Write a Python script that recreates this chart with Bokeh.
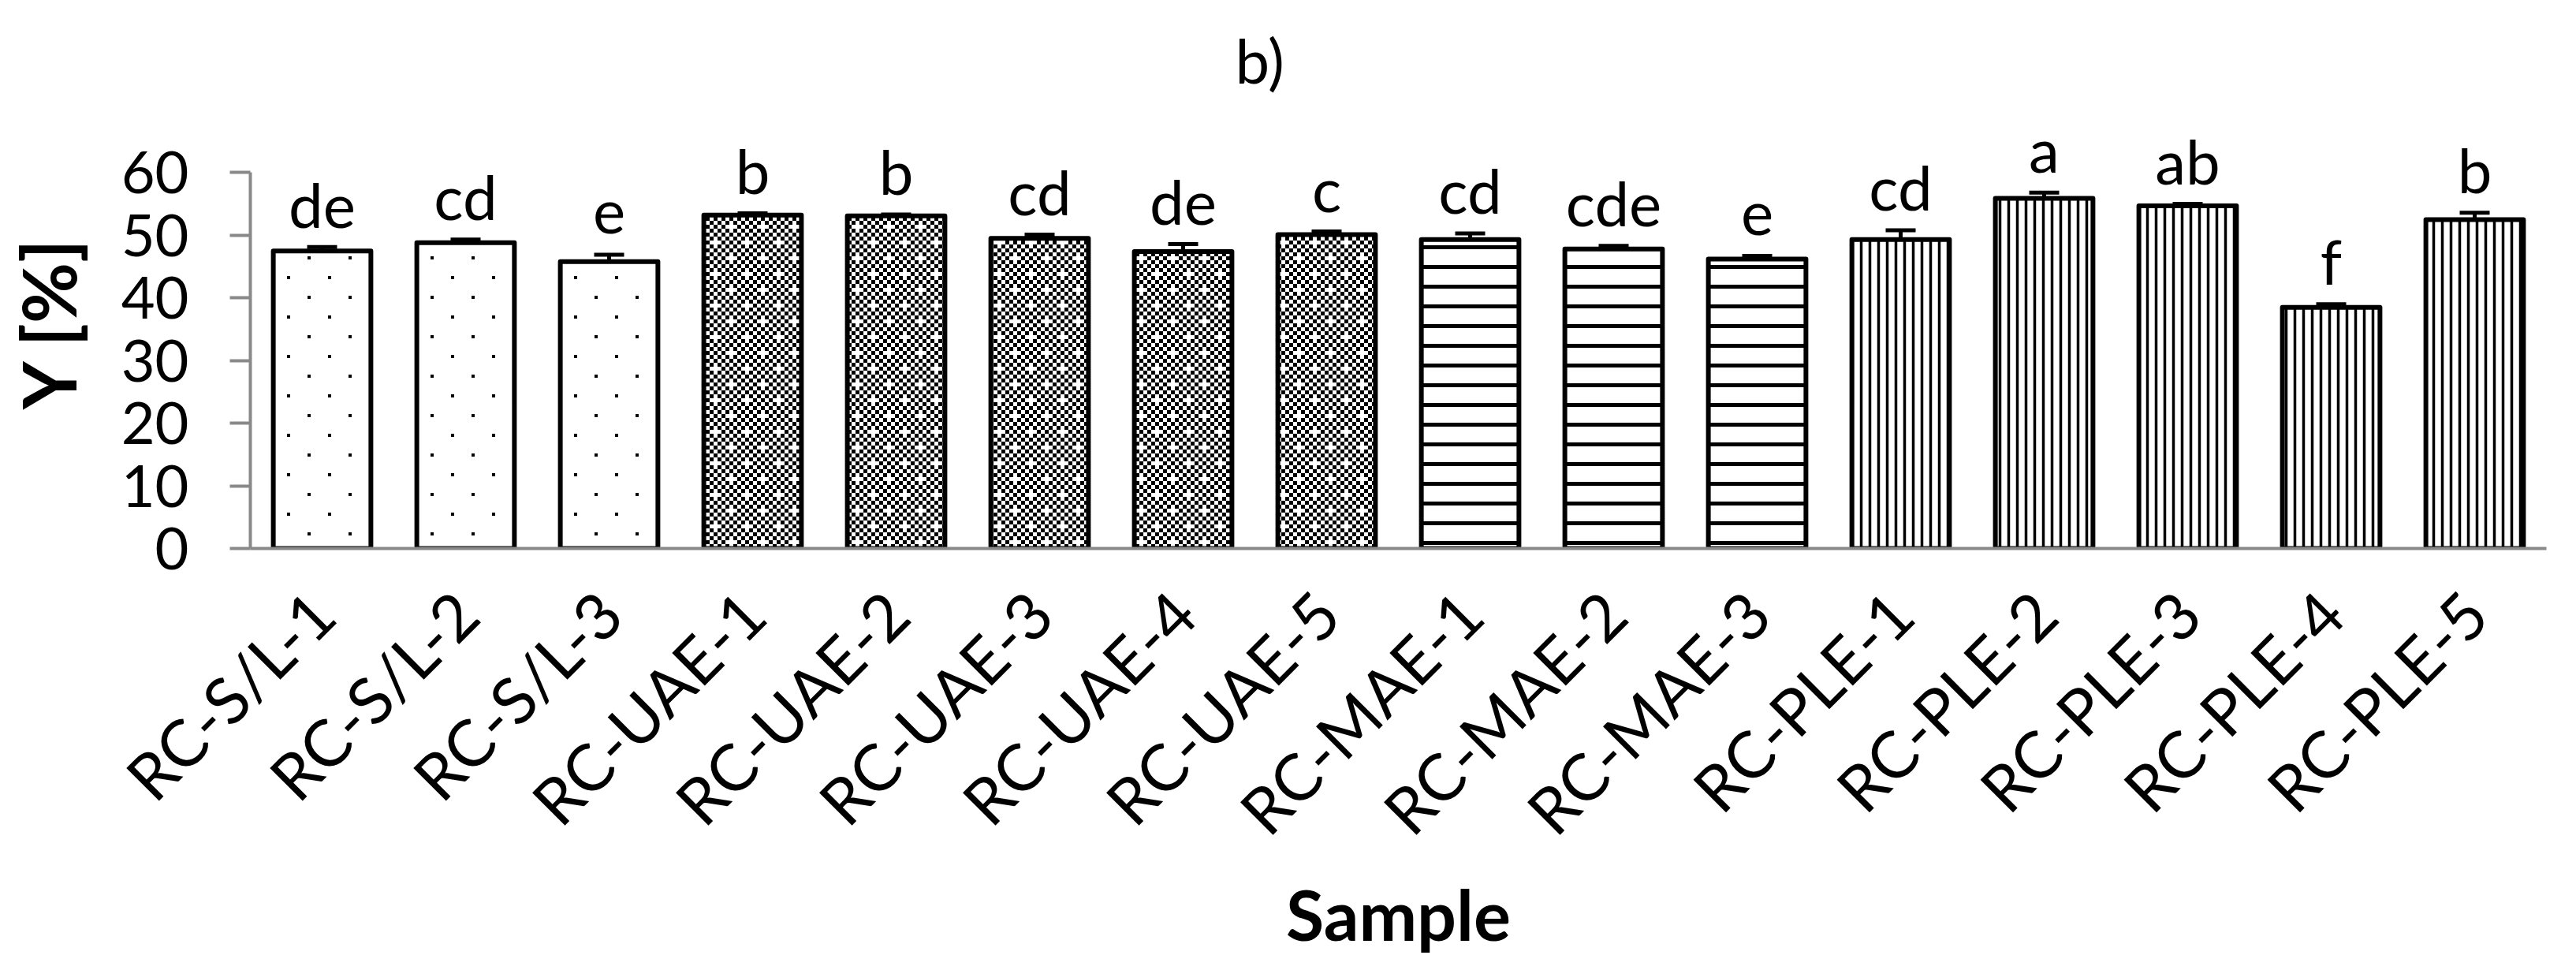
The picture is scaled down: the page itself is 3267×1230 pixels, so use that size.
import math
from bokeh.plotting import figure
from bokeh.models import (FactorRange, Range1d, FixedTicker, Whisker, TeeHead,
                          ColumnDataSource, CanvasTexture)
from bokeh.core.properties import value
from bokeh.embed import file_html
from bokeh.resources import INLINE

# ---------------- data ----------------
samples = ["RC-S/L-1", "RC-S/L-2", "RC-S/L-3",
           "RC-UAE-1", "RC-UAE-2", "RC-UAE-3", "RC-UAE-4", "RC-UAE-5",
           "RC-MAE-1", "RC-MAE-2", "RC-MAE-3",
           "RC-PLE-1", "RC-PLE-2", "RC-PLE-3", "RC-PLE-4", "RC-PLE-5"]
methods = ["S/L"] * 3 + ["UAE"] * 5 + ["MAE"] * 3 + ["PLE"] * 5
yields = [47.5, 48.8, 45.8, 53.2, 53.1, 49.5, 47.4, 50.1,
          49.3, 47.8, 46.2, 49.3, 55.9, 54.7, 38.5, 52.5]
errors = [0.6, 0.5, 1.1, 0.3, 0.2, 0.6, 1.2, 0.5,
          1.0, 0.5, 0.5, 1.5, 0.9, 0.3, 0.5, 1.1]
letters = ["de", "cd", "e", "b", "b", "cd", "de", "c",
           "cd", "cde", "e", "cd", "a", "ab", "f", "b"]
y_ticks = [0, 10, 20, 30, 40, 50, 60]

# ---------------- styles ----------------
FONT = "Lato"
AXIS_GRAY = "#898989"
LABEL_GAP = 6.9  # data units between error-bar top and letter baseline

# custom tile textures (the tile canvas is resized inside the code)
dots_tex = CanvasTexture(code="""
var cv = ctx.canvas;
cv.width = 52; cv.height = 50;
ctx.clearRect(0, 0, 52, 50);
ctx.fillStyle = "black";
ctx.fillRect(0, 0, 4, 4);
ctx.fillRect(26, 25, 4, 4);
""")
checker_tex = CanvasTexture(code="""
var cv = ctx.canvas;
cv.width = 40; cv.height = 40;
ctx.clearRect(0, 0, 40, 40);
ctx.fillStyle = "black";
var c = 5;
for (var i = 0; i < 8; i++) {
  for (var j = 0; j < 8; j++) {
    if ((i + j) % 2 == 0 && !((i == 1 && j == 1) || (i == 5 && j == 5))) {
      ctx.fillRect(i * c, j * c, c, c);
    }
  }
}
""")
textures = {"sparse_dots": dots_tex, "checker": checker_tex}

group_style = {
    "S/L": dict(pattern="sparse_dots", hatch_scale=50, hatch_weight=1),
    "UAE": dict(pattern="checker", hatch_scale=40, hatch_weight=1),
    "MAE": dict(pattern="horizontal_line", hatch_scale=25, hatch_weight=5),
    "PLE": dict(pattern="vertical_line", hatch_scale=11, hatch_weight=3.5),
}

# ---------------- figure ----------------
p = figure(x_range=FactorRange(factors=samples, range_padding=0),
           y_range=Range1d(0, 72),
           width=3251, height=1214,
           min_border_left=299, min_border_right=22,
           min_border_top=123, min_border_bottom=519,
           output_backend="svg", toolbar_location=None)
p.background_fill_color = "white"
p.border_fill_color = "white"
p.outline_line_color = None
p.xgrid.grid_line_color = None
p.ygrid.grid_line_color = None

upper = [v + e for v, e in zip(yields, errors)]
label_y = [u + LABEL_GAP for u in upper]
src = ColumnDataSource(dict(sample=samples, method=methods, value=yields,
                            upper=upper, letter=letters, label_y=label_y))

# error bars (upper only)
whisk = Whisker(source=src, base="sample", lower="value", upper="upper",
                dimension="height", line_color="black", line_width=5,
                upper_head=TeeHead(size=38, line_color="black", line_width=5),
                lower_head=None)
p.add_layout(whisk)

for m, st in group_style.items():
    idx = [i for i, mm in enumerate(methods) if mm == m]
    sub = ColumnDataSource(dict(sample=[samples[i] for i in idx],
                                value=[yields[i] for i in idx],
                                pattern=[st["pattern"]] * len(idx)))
    p.vbar(x="sample", top="value", bottom=0, width=0.68, source=sub,
           fill_color="white", line_color="black", line_width=6,
           line_join="round", hatch_color="black",
           hatch_pattern="pattern", hatch_extra=textures,
           hatch_scale=st["hatch_scale"], hatch_weight=st["hatch_weight"])

p.text(x="sample", y="label_y", text="letter", source=src,
       text_font=value(FONT), text_font_size="78px", text_color="black",
       text_align="center", text_baseline="alphabetic")

# title
p.title.text = "b)"
p.title.text_font = FONT
p.title.text_font_size = "78px"
p.title.text_font_style = "normal"
p.title.text_color = "black"
p.title.align = "left"
p.title.offset = 1249
p.title.standoff = 1

# y axis
ya = p.yaxis[0]
ya.bounds = (0, 60)
ya.ticker = FixedTicker(ticks=y_ticks)
ya.axis_line_color = AXIS_GRAY
ya.axis_line_width = 4
ya.major_tick_line_color = AXIS_GRAY
ya.major_tick_line_width = 4
ya.major_tick_in = 0
ya.major_tick_out = 26
ya.minor_tick_line_color = None
ya.major_label_standoff = 52
ya.major_label_text_font = FONT
ya.major_label_text_font_size = "74px"
ya.major_label_text_color = "black"
ya.axis_label = "Y [%]"
ya.axis_label_text_font = FONT
ya.axis_label_text_font_size = "94px"
ya.axis_label_text_font_style = "bold"
ya.axis_label_text_color = "black"
ya.axis_label_standoff = 34

# x axis
xa = p.xaxis[0]
xa.axis_line_color = AXIS_GRAY
xa.axis_line_width = 4
xa.major_tick_line_color = None
xa.major_tick_in = 0
xa.major_tick_out = 0
xa.minor_tick_line_color = None
xa.major_label_orientation = math.pi / 4
xa.major_label_standoff = 68
xa.major_label_text_font = FONT
xa.major_label_text_font_size = "82px"
xa.major_label_text_color = "black"
xa.axis_label = "Sample"
xa.axis_label_text_font = FONT
xa.axis_label_text_font_size = "88px"
xa.axis_label_text_font_style = "bold"
xa.axis_label_text_color = "black"
xa.axis_label_standoff = -8

open("out.html", "w").write(file_html(p, INLINE))
